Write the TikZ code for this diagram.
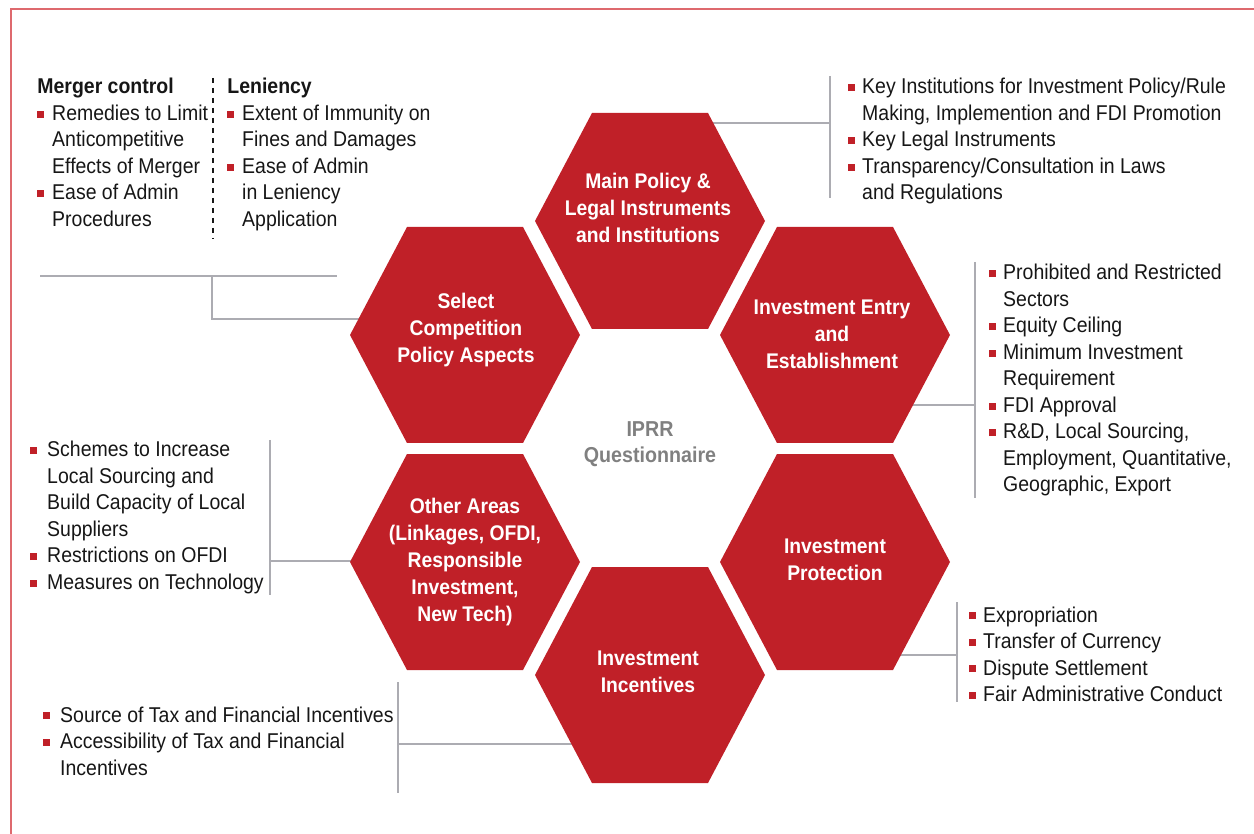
\documentclass[tikz,border=0pt]{standalone}
\usepackage{fontspec}
\setmainfont{Liberation Sans}[FakeStretch=0.91]
\usepackage{array}

\definecolor{hexred}{RGB}{192,32,40}
\definecolor{framered}{RGB}{222,105,110}
\definecolor{linegrey}{RGB}{172,172,178}
\definecolor{textblack}{RGB}{22,22,22}
\definecolor{centregrey}{RGB}{128,128,128}

\newcommand{\sqbullet}{\textcolor{hexred}{\rule[1.4pt]{3.4pt}{3.4pt}}}

\begin{document}
\begin{tikzpicture}[x=0.5pt, y=-0.5pt,
    link/.style={draw=linegrey, line width=0.8pt},
    hextext/.style={text=white, align=center, inner sep=0pt,
        font=\bfseries\fontsize{10.6}{13.5}\selectfont},
    itemlist/.style={anchor=base west, inner sep=0pt, text=textblack,
        font=\fontsize{10.7}{13.25}\selectfont}]

    % Fix the page to the size of the reference
    \useasboundingbox (0,0) rectangle (1254,834);

    % Frame, open to the right and to the bottom
    \draw[framered, line width=1pt] (11,834) -- (11,9.5) -- (1254,9.5);

    % Ends of the connectors at the hexagons
    \coordinate (mainE) at (700,123);
    \coordinate (entryE) at (905,405);
    \coordinate (protE) at (895,655);
    \coordinate (incE) at (585,744);
    \coordinate (otherE) at (365,561);
    \coordinate (selE) at (370,319);

    % Ends of the connectors at the lists
    \coordinate (mainBar) at (830,123);
    \coordinate (mainTop) at (830,76);
    \coordinate (mainBot) at (830,198);
    \coordinate (entryBar) at (975,405);
    \coordinate (entryTop) at (975,262);
    \coordinate (entryBot) at (975,498);
    \coordinate (protBar) at (957,655);
    \coordinate (protTop) at (957,602);
    \coordinate (protBot) at (957,702);
    \coordinate (incBar) at (398,744);
    \coordinate (incTop) at (398,682);
    \coordinate (incBot) at (398,793);
    \coordinate (otherBar) at (270,561);
    \coordinate (otherTop) at (270,440);
    \coordinate (otherBot) at (270,595);
    \coordinate (selBar) at (212,319);
    \coordinate (selTop) at (212,276);
    \coordinate (selL) at (40,276);
    \coordinate (selR) at (337,276);

    % Connectors
    \draw[link] (mainE) -- (mainBar);
    \draw[link] (mainTop) -- (mainBot);
    \draw[link] (entryE) -- (entryBar);
    \draw[link] (entryTop) -- (entryBot);
    \draw[link] (protE) -- (protBar);
    \draw[link] (protTop) -- (protBot);
    \draw[link] (incE) -- (incBar);
    \draw[link] (incTop) -- (incBot);
    \draw[link] (otherE) -- (otherBar);
    \draw[link] (otherTop) -- (otherBot);
    \draw[link] (selE) -- (selBar) -- (selTop);
    \draw[link] (selL) -- (selR);

    % Dashed line between the two competition lists
    \coordinate (dashTop) at (213,78);
    \coordinate (dashBot) at (213,239);
    \draw[textblack, line width=0.6pt, dash pattern=on 2.5pt off 2.5pt] (dashTop) -- (dashBot);

    % Red hexagons around the centre
    \foreach \x/\y in {650/221, 465/335, 835/335, 465/562, 835/562, 650/675}
        \fill[hexred] (\x,\y) ++(-115,0) -- ++(57,-108) -- ++(116,0)
            -- ++(57,108) -- ++(-57,108) -- ++(-116,0) -- cycle;

    % Texts in the hexagons
    \node[hextext] (main) at (648,208) {Main Policy \&\\Legal Instruments\\and Institutions};
    \node[hextext] (select) at (466,330) {Select\\Competition\\Policy Aspects};
    \node[hextext] (entry) at (832,334) {Investment Entry\\and\\Establishment};
    \node[hextext] (other) at (465,562) {Other Areas\\(Linkages, OFDI,\\Responsible\\Investment,\\New Tech)};
    \node[hextext] (protect) at (835,560) {Investment\\Protection};
    \node[hextext] (incent) at (648,672) {Investment\\Incentives};

    % Centre label
    \node[text=centregrey, align=center, font=\bfseries\fontsize{10.8}{13.25}\selectfont] (iprr) at (650,444) {IPRR\\Questionnaire};

    % Lists
    \node[itemlist] (merger) at (37,94) {\begin{tabular}[t]{@{}l@{\hspace{4pt}}l@{}}
        \multicolumn{2}{@{}l@{}}{\bfseries Merger control}\\
        \sqbullet & Remedies to Limit\\
        & Anticompetitive\\
        & Effects of Merger\\
        \sqbullet & Ease of Admin\\
        & Procedures
    \end{tabular}};
    \node[itemlist] (lenient) at (227,94) {\begin{tabular}[t]{@{}l@{\hspace{4pt}}l@{}}
        \multicolumn{2}{@{}l@{}}{\bfseries Leniency}\\
        \sqbullet & Extent of Immunity on\\
        & Fines and Damages\\
        \sqbullet & Ease of Admin\\
        & in Leniency\\
        & Application
    \end{tabular}};
    \node[itemlist] (mainlist) at (848,94) {\begin{tabular}[t]{@{}l@{\hspace{3.5pt}}l@{}}
        \sqbullet & Key Institutions for Investment Policy/Rule\\
        & Making, Implemention and FDI Promotion\\
        \sqbullet & Key Legal Instruments\\
        \sqbullet & Transparency/Consultation in Laws\\
        & and Regulations
    \end{tabular}};
    \node[itemlist] (entrylist) at (989,280) {\begin{tabular}[t]{@{}l@{\hspace{3.5pt}}l@{}}
        \sqbullet & Prohibited and Restricted\\
        & Sectors\\
        \sqbullet & Equity Ceiling\\
        \sqbullet & Minimum Investment\\
        & Requirement\\
        \sqbullet & FDI Approval\\
        \sqbullet & R\&D, Local Sourcing,\\
        & Employment, Quantitative,\\
        & Geographic, Export
    \end{tabular}};
    \node[itemlist] (protlist) at (969,622) {\begin{tabular}[t]{@{}l@{\hspace{3.5pt}}l@{}}
        \sqbullet & Expropriation\\
        \sqbullet & Transfer of Currency\\
        \sqbullet & Dispute Settlement\\
        \sqbullet & Fair Administrative Conduct
    \end{tabular}};
    \node[itemlist] (inclist) at (43,722) {\begin{tabular}[t]{@{}l@{\hspace{5pt}}l@{}}
        \sqbullet & Source of Tax and Financial Incentives\\
        \sqbullet & Accessibility of Tax and Financial\\
        & Incentives
    \end{tabular}};
    \node[itemlist] (otherlist) at (30,457) {\begin{tabular}[t]{@{}l@{\hspace{5pt}}l@{}}
        \sqbullet & Schemes to Increase\\
        & Local Sourcing and\\
        & Build Capacity of Local\\
        & Suppliers\\
        \sqbullet & Restrictions on OFDI\\
        \sqbullet & Measures on Technology
    \end{tabular}};

\end{tikzpicture}
\end{document}
